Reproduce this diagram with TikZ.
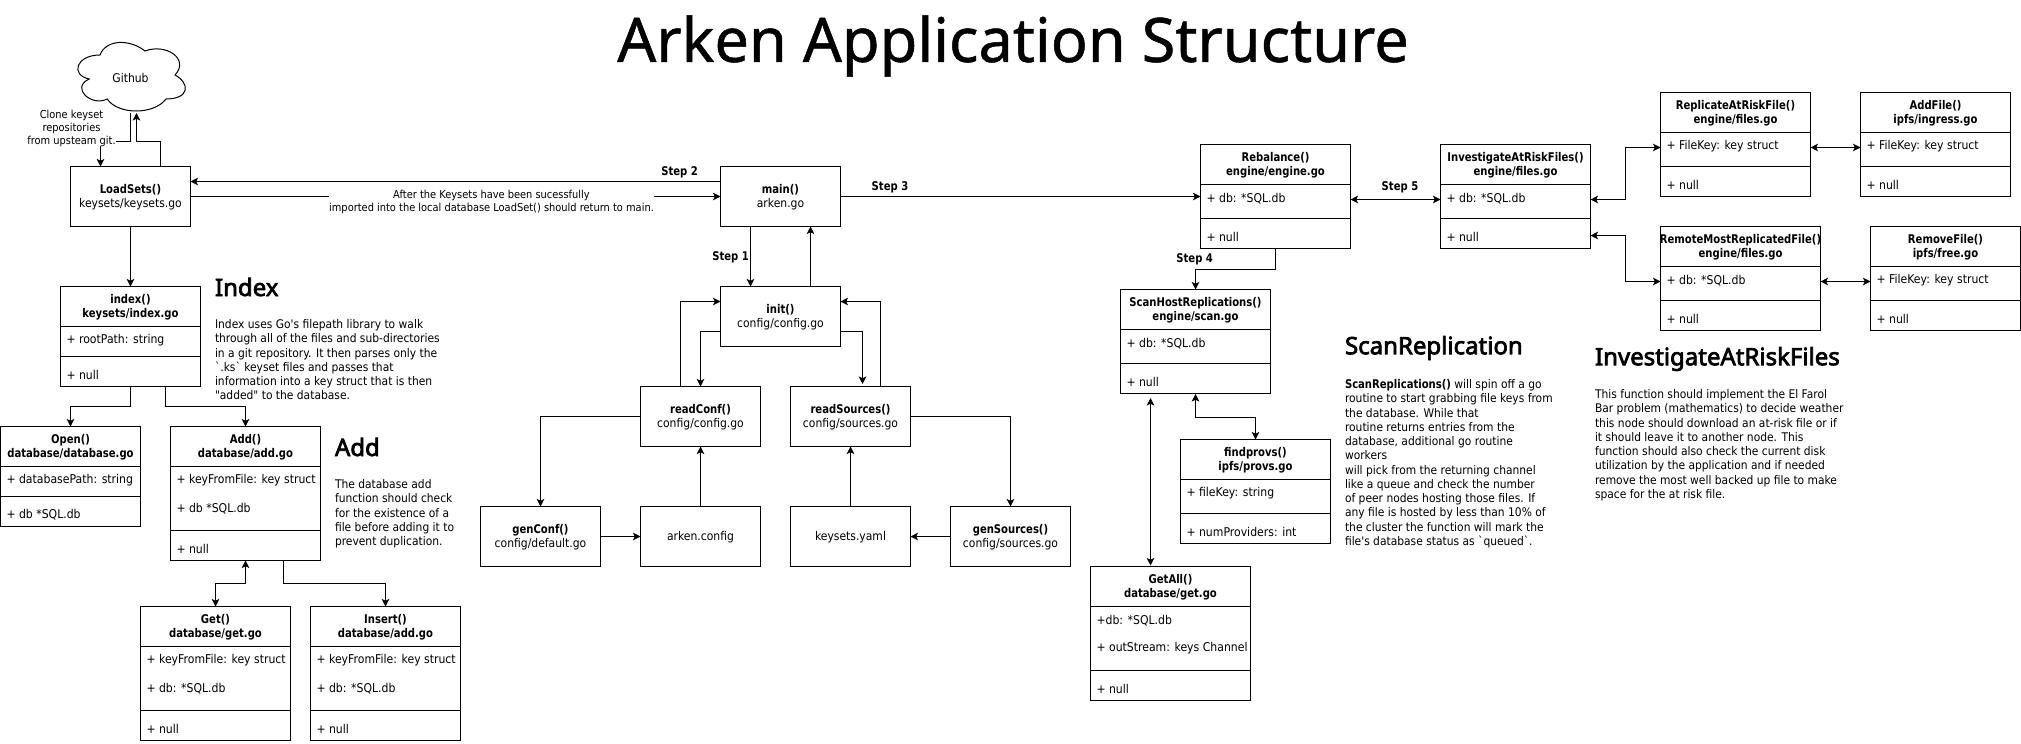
\documentclass[tikz,border=0pt]{standalone}
\usepackage{fontspec}
\newfontfamily\dvs[FakeStretch=0.9,BoldFeatures={FakeStretch=0.8375}]{DejaVu Sans}
\newfontfamily\headfont{Noto Sans}
\usetikzlibrary{arrows.meta}
\newcommand{\heavy}[2]{\special{pdf:code 2 Tr #1 w}#2\special{pdf:code 0 Tr 1 w}}
\newcommand{\bt}[1]{{\bfseries\fontsize{12}{14}\selectfont #1}}
\tikzset{
  x=1pt,y=-1pt,
  conn/.style={draw=black,line width=1pt,-{Stealth[length=7.5pt,width=7.5pt,inset=1.8pt]}},
  both/.style={draw=black,line width=1pt,{Stealth[length=7.5pt,width=7.5pt,inset=1.8pt]}-{Stealth[length=7.5pt,width=7.5pt,inset=1.8pt]}},
  boxb/.style={draw=black,line width=1pt,fill=white,inner sep=0pt,outer sep=0pt,anchor=north west},
  plain/.style={inner sep=0pt,outer sep=0pt,align=center,font=\dvs\fontsize{12}{14}\selectfont},
  rowtext/.style={inner sep=0pt,outer sep=0pt,anchor=west,font=\dvs\fontsize{12.1}{14}\selectfont},
  bodytext/.style={inner sep=0pt,outer sep=0pt,anchor=north west,align=left,font=\dvs\fontsize{11.9}{14.25}\selectfont},
  heading/.style={inner sep=0pt,outer sep=0pt,anchor=west,font=\headfont\fontsize{24}{28}\selectfont},
  steplabel/.style={inner sep=0pt,outer sep=0pt,font=\dvs\bfseries\fontsize{12}{14}\selectfont},
  whitelabel/.style={fill=white,inner sep=0pt,outer sep=0pt,align=center,font=\dvs\fontsize{10.95}{13}\selectfont},
}
\newcommand{\rbox}[6]{\node[boxb,minimum width=#4pt,minimum height=#5pt] (#1) at (#2,#3) {};
  \node[plain] (#1-t) at (#2+#4/2,#3+#5/2+0.5) {#6};}
\newcommand{\ubox}[7]{%
  \node[boxb,minimum width=#4pt,minimum height=#5pt] (#1) at (#2,#3) {};
  \draw[line width=1pt] (#2,#3+40) -- (#2+#4,#3+40);
  \draw[line width=1pt] (#2,#6) -- (#2+#4,#6);
  \node[plain] (#1-t) at (#2+#4/2,#3+20.5) {#7};
}
\newcommand{\urow}[4]{\node[rowtext] (#1) at (#2+6,#3+0.5) {#4};}
\begin{document}
\begin{tikzpicture}
\useasboundingbox (0,0) rectangle (2021,744);
\fill[white] (0,0) rectangle (2021,744);
% title
\node[inner sep=0pt,outer sep=0pt,font=\headfont\fontsize{61.3}{70}\selectfont] (title) at (1013,46) {\heavy{0.5}{Arken Application Structure}};
% cloud
\draw[line width=1pt,fill=white] (100,55)
 .. controls (76,55) and (70,75) .. (89.2,79)
 .. controls (70,87.8) and (91.6,107) .. (107.2,99)
 .. controls (118,115) and (154,115) .. (166,99)
 .. controls (190,99) and (190,83) .. (175,75)
 .. controls (190,59) and (166,43) .. (145,51)
 .. controls (130,39) and (106,39) .. (100,55) -- cycle;
\node[plain,minimum width=110pt,minimum height=70pt] (gh) at (130.5,78) {Github};
% boxes
\rbox{load}{70.5}{166.5}{120}{60}{\bt{LoadSets()}\\keysets/keysets.go}
\rbox{main}{720.5}{166.5}{120}{60}{\bt{main()}\\arken.go}
\rbox{init}{720.5}{286.5}{120}{60}{\bt{init()}\\config/config.go}
\rbox{rc}{640.5}{386.5}{120}{60}{\bt{readConf()}\\config/config.go}
\rbox{rs}{790.5}{386.5}{120}{60}{\bt{readSources()}\\config/sources.go}
\rbox{gc}{480.5}{506.5}{120}{60}{\bt{genConf()}\\config/default.go}
\rbox{ac}{640.5}{506.5}{120}{60}{arken.config}
\rbox{ky}{790.5}{506.5}{120}{60}{keysets.yaml}
\rbox{gs}{950.5}{506.5}{120}{60}{\bt{genSources()}\\config/sources.go}
% uml boxes
\ubox{index}{60.5}{286.5}{140}{100}{356.5}{\bt{index()}\\\bt{keysets/index.go}}
\urow{index-a}{60.5}{340}{+ rootPath: string}
\urow{index-b}{60.5}{374}{+ null}
\ubox{open}{0.5}{426.5}{140}{100}{496.5}{\bt{Open()}\\\bt{database/database.go}}
\urow{open-a}{0.5}{480}{+ databasePath: string}
\urow{open-b}{0.5}{514}{+ db *SQL.db}
\ubox{add}{170.5}{426.5}{150}{134}{530.5}{\bt{Add()}\\\bt{database/add.go}}
\urow{add-a}{170.5}{480}{+ keyFromFile: key struct}
\urow{add-b}{170.5}{508}{+ db *SQL.db}
\urow{add-c}{170.5}{548}{+ null}
\ubox{get}{140.5}{606.5}{150}{134}{710.5}{\bt{Get()}\\\bt{database/get.go}}
\urow{get-a}{140.5}{660}{+ keyFromFile: key struct}
\urow{get-b}{140.5}{688}{+ db: *SQL.db}
\urow{get-c}{140.5}{728}{+ null}
\ubox{ins}{310.5}{606.5}{150}{134}{710.5}{\bt{Insert()}\\\bt{database/add.go}}
\urow{ins-a}{310.5}{660}{+ keyFromFile: key struct}
\urow{ins-b}{310.5}{688}{+ db: *SQL.db}
\urow{ins-c}{310.5}{728}{+ null}
\ubox{reb}{1200.5}{144.5}{150}{104}{218.5}{\bt{Rebalance()}\\\bt{engine/engine.go}}
\urow{reb-a}{1200.5}{198}{+ db: *SQL.db}
\urow{reb-b}{1200.5}{236}{+ null}
\ubox{inv}{1440.5}{144.5}{150}{104}{218.5}{\bt{InvestigateAtRiskFiles()}\\\bt{engine/files.go}}
\urow{inv-a}{1440.5}{198}{+ db: *SQL.db}
\urow{inv-b}{1440.5}{236}{+ null}
\ubox{scan}{1120.5}{289.5}{150}{104}{363.5}{\bt{ScanHostReplications()}\\\bt{engine/scan.go}}
\urow{scan-a}{1120.5}{343}{+ db: *SQL.db}
\urow{scan-b}{1120.5}{381}{+ null}
\ubox{fp}{1180.5}{439.5}{150}{104}{513.5}{\bt{findprovs()}\\\bt{ipfs/provs.go}}
\urow{fp-a}{1180.5}{493}{+ fileKey: string}
\urow{fp-b}{1180.5}{531}{+ numProviders: int}
\ubox{ga}{1090.5}{566.5}{160}{134}{670.5}{\bt{GetAll()}\\\bt{database/get.go}}
\urow{ga-a}{1090.5}{620}{+db: *SQL.db}
\urow{ga-b}{1090.5}{648}{+ outStream: keys Channel}
\urow{ga-c}{1090.5}{688}{+ null}
\ubox{rep}{1660.5}{92.5}{150}{104}{166.5}{\bt{ReplicateAtRiskFile()}\\\bt{engine/files.go}}
\urow{rep-a}{1660.5}{146}{+ FileKey: key struct}
\urow{rep-b}{1660.5}{184}{+ null}
\ubox{af}{1860.5}{92.5}{150}{104}{166.5}{\bt{AddFile()}\\\bt{ipfs/ingress.go}}
\urow{af-a}{1860.5}{146}{+ FileKey: key struct}
\urow{af-b}{1860.5}{184}{+ null}
\ubox{rem}{1660.5}{226.5}{160}{104}{300.5}{\bt{RemoteMostReplicatedFile()}\\\bt{engine/files.go}}
\urow{rem-a}{1660.5}{280}{+ db: *SQL.db}
\urow{rem-b}{1660.5}{318}{+ null}
\ubox{rf}{1870.5}{226.5}{150}{104}{300.5}{\bt{RemoveFile()}\\\bt{ipfs/free.go}}
\urow{rf-a}{1870.5}{280}{+ FileKey: key struct}
\urow{rf-b}{1870.5}{318}{+ null}
% connectors
\draw[conn] (gh.south) -- ++(0,28.5) -| ([xshift=-30pt]load.north);
\draw[conn] ([xshift=30pt]load.north) -- ++(0,-25) -| ([xshift=6pt]gh.south);
\draw[conn] (load) -- (index);
\draw[conn] ([yshift=15pt]main.west) -- ([yshift=15pt]load.east);
\draw[conn] (load.east) -- (main.west);
\draw[conn] ([xshift=-30pt]main.south) -- ([xshift=-30pt]init.north);
\draw[conn] ([xshift=30pt]init.north) -- ([xshift=30pt]main.south);
\draw[conn] ([xshift=-20pt]rc.north) |- ([yshift=15pt]init.west);
\draw[conn] ([yshift=-15pt]init.west) -| (rc.north);
\draw[conn] ([yshift=-15pt]init.east) -| ([xshift=12pt,yshift=2.5pt]rs.north);
\draw[conn] ([xshift=30pt]rs.north) |- ([yshift=15pt]init.east);
\draw[conn] (rc.west) -| (gc.north);
\draw[conn] (gc.east) -- (ac.west);
\draw[conn] (ac.north) -- (rc.south);
\draw[conn] (ky.north) -- (rs.south);
\draw[conn] (gs.west) -- (ky.east);
\draw[conn] (rs.east) -| (gs.north);
\draw[conn] (main.east) -- (reb.west |- main.east);
\draw[conn] (index.south) -- ++(0,20) -| (open.north);
\draw[conn] ([xshift=35pt]index.south) -- ++(0,20) -| (add.north);
\draw[both] (add.south) -- ++(0,23) -| (get.north);
\draw[conn] ([xshift=38pt]add.south) -- ++(0,23) -| (ins.north);
\draw[both] ([yshift=-3pt]reb.east) -- ([yshift=-3pt]inv.west);
\draw[conn] (reb.south) -- ++(0,20.5) -| (scan.north);
\draw[both] ([yshift=-0.5pt]scan.south) -- ++(0,23) -| (fp.north);
\draw[both] ([xshift=-45pt,yshift=-4.5pt]scan.south) -- ([xshift=-20pt,yshift=1pt]ga.north);
\draw[both] ([yshift=-3pt]inv.east) -- ++(35,0) |- ([yshift=-3pt]rep.west);
\draw[both] ([yshift=-39pt]inv.east) -- ++(35,0) |- ([yshift=-3pt]rem.west);
\draw[both] ([yshift=-3pt]rep.east) -- ([yshift=-3pt]af.west);
\draw[both] ([yshift=-3pt]rem.east) -- ([yshift=-3pt]rf.west);
% labels over lines
\node[whitelabel,minimum width=325pt,minimum height=28pt] (after) at (491.5,202) {After the Keysets have been sucessfully\\imported into the local database LoadSet() should return to main.};
\node[whitelabel,minimum width=87pt] (clone) at (71.5,128) {Clone keyset\\repositories\\from upsteam git.};
\node[steplabel] (s1) at (730.6,257.3) {Step 1};
\node[steplabel] (s2) at (679.6,172.3) {Step 2};
\node[steplabel] (s3) at (890,187) {Step 3};
\node[steplabel] (s4) at (1194.7,259) {Step 4};
\node[steplabel] (s5) at (1400,187) {Step 5};
% prose
\node[heading] (h1) at (215,287) {\heavy{0.7}{Index}};
\node[bodytext] (b1) at (215,319.5) {Index uses Go's filepath library to walk\\through all of the files and sub-directories\\in a git repository. It then parses only the\\`.ks` keyset files and passes that\\information into a key struct that is then\\"added" to the database.};
\node[heading] (h2) at (335,447) {\heavy{0.7}{Add}};
\node[bodytext] (b2) at (335,479.5) {The database add\\function should check\\for the existence of a\\file before adding it to\\prevent duplication.};
\node[heading] (h3) at (1345,348) {\heavy{0.7}{ScanReplication}};
\node[bodytext] (b3) at (1345,379.5) {\bt{ScanReplications()} will spin off a go\\routine to start grabbing file keys from\\the database. While that\\routine returns entries from the\\database, additional go routine\\workers\\will pick from the returning channel\\like a queue and check the number\\of peer nodes hosting those files. If\\any file is hosted by less than 10\% of\\the cluster the function will mark the\\file's database status as `queued`.};
\node[heading] (h4) at (1595,359) {\heavy{0.7}{InvestigateAtRiskFiles}};
\node[bodytext] (b4) at (1595,389.5) {This function should implement the El Farol\\Bar problem (mathematics) to decide weather\\this node should download an at-risk file or if\\it should leave it to another node. This\\function should also check the current disk\\utilization by the application and if needed\\remove the most well backed up file to make\\space for the at risk file.};
\end{tikzpicture}
\end{document}
